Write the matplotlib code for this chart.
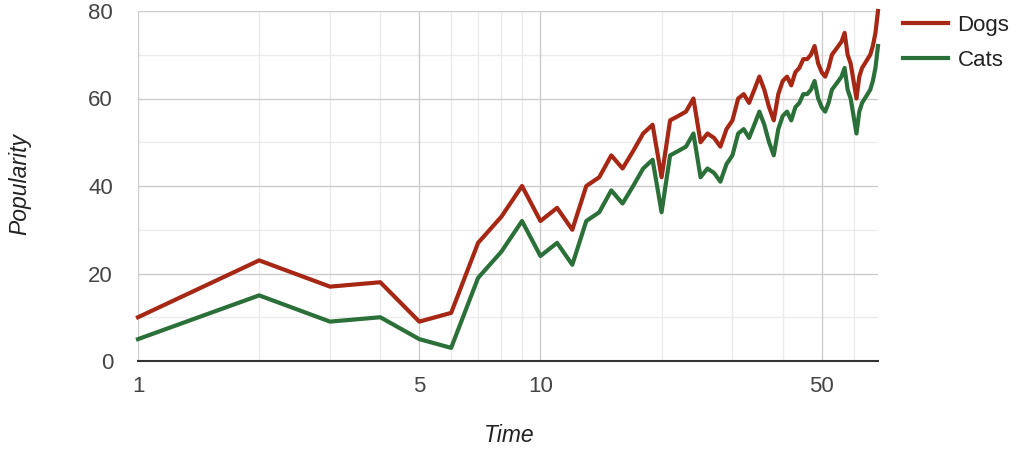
import matplotlib.pyplot as plt
from matplotlib.ticker import FixedLocator, NullFormatter

plt.rcParams['font.family'] = ['Liberation Sans', 'DejaVu Sans']

# data (x = 0 is dropped on the log axis)
time = list(range(1, 70))
dogs = [10, 23, 17, 18, 9, 11, 27, 33, 40, 32, 35, 30, 40, 42, 47, 44, 48, 52, 54,
        42, 55, 56, 57, 60, 50, 52, 51, 49, 53, 55, 60, 61, 59, 62, 65, 62, 58, 55,
        61, 64, 65, 63, 66, 67, 69, 69, 70, 72, 68, 66, 65, 67, 70, 71, 72, 73, 75,
        70, 68, 64, 60, 65, 67, 68, 69, 70, 72, 75, 80]
cats = [5, 15, 9, 10, 5, 3, 19, 25, 32, 24, 27, 22, 32, 34, 39, 36, 40, 44, 46,
        34, 47, 48, 49, 52, 42, 44, 43, 41, 45, 47, 52, 53, 51, 54, 57, 54, 50, 47,
        53, 56, 57, 55, 58, 59, 61, 61, 62, 64, 60, 58, 57, 59, 62, 63, 64, 65, 67,
        62, 60, 56, 52, 57, 59, 60, 61, 62, 64, 67, 72]
x_major = [1, 5, 10, 50]
x_minor = [2, 3, 4, 6, 7, 8, 9, 20, 30, 40, 60]
y_major = [0, 20, 40, 60, 80]
y_minor = [10, 30, 50, 70]

fig = plt.figure(figsize=(10.16, 4.5), dpi=100)
ax = fig.add_axes([138 / 1016, 1 - 361 / 450, 740 / 1016, 350 / 450])

ax.set_xscale('log')
ax.set_xlim(1, 69)
ax.set_ylim(0, 80)

for v in x_minor:
    ax.axvline(v, color='#ebebeb', lw=1, zorder=0)
for v in y_minor:
    ax.axhline(v, color='#ebebeb', lw=1, zorder=0)
for v in x_major:
    ax.axvline(v, color='#cccccc', lw=1, zorder=0.5)
for v in y_major[1:]:
    ax.axhline(v, color='#cccccc', lw=1, zorder=0.5)
ax.axhline(0, color='#333333', lw=1.5, zorder=3, clip_on=False)

ax.plot(time, dogs, color='#a52714', lw=3, label='Dogs', zorder=2, clip_on=False)
ax.plot(time, cats, color='#2a7038', lw=3, label='Cats', zorder=2, clip_on=False)

ax.xaxis.set_major_locator(FixedLocator(x_major))
ax.xaxis.set_minor_locator(FixedLocator([]))
ax.xaxis.set_minor_formatter(NullFormatter())
ax.set_xticklabels([str(v) for v in x_major])
ax.set_yticks(y_major)
ax.tick_params(axis='both', length=0, labelsize=16, labelcolor='#444444')
ax.tick_params(axis='x', pad=11)
ax.tick_params(axis='y', pad=18)

for s in ax.spines.values():
    s.set_visible(False)

fig.text(20 / 1016, 1 - 184 / 450, 'Popularity', rotation=90, ha='center', va='center',
         fontsize=16.5, style='italic', color='#222222')
fig.text(509 / 1016, 1 - 436 / 450, 'Time', ha='center', va='center',
         fontsize=16.5, style='italic', color='#222222')

ax.legend(loc='upper left', bbox_to_anchor=(1.007, 1.045), frameon=False, fontsize=16,
          handlelength=2.0, handletextpad=0.45, labelspacing=0.6, labelcolor='#222222')

fig.savefig('out.png', dpi=100)
